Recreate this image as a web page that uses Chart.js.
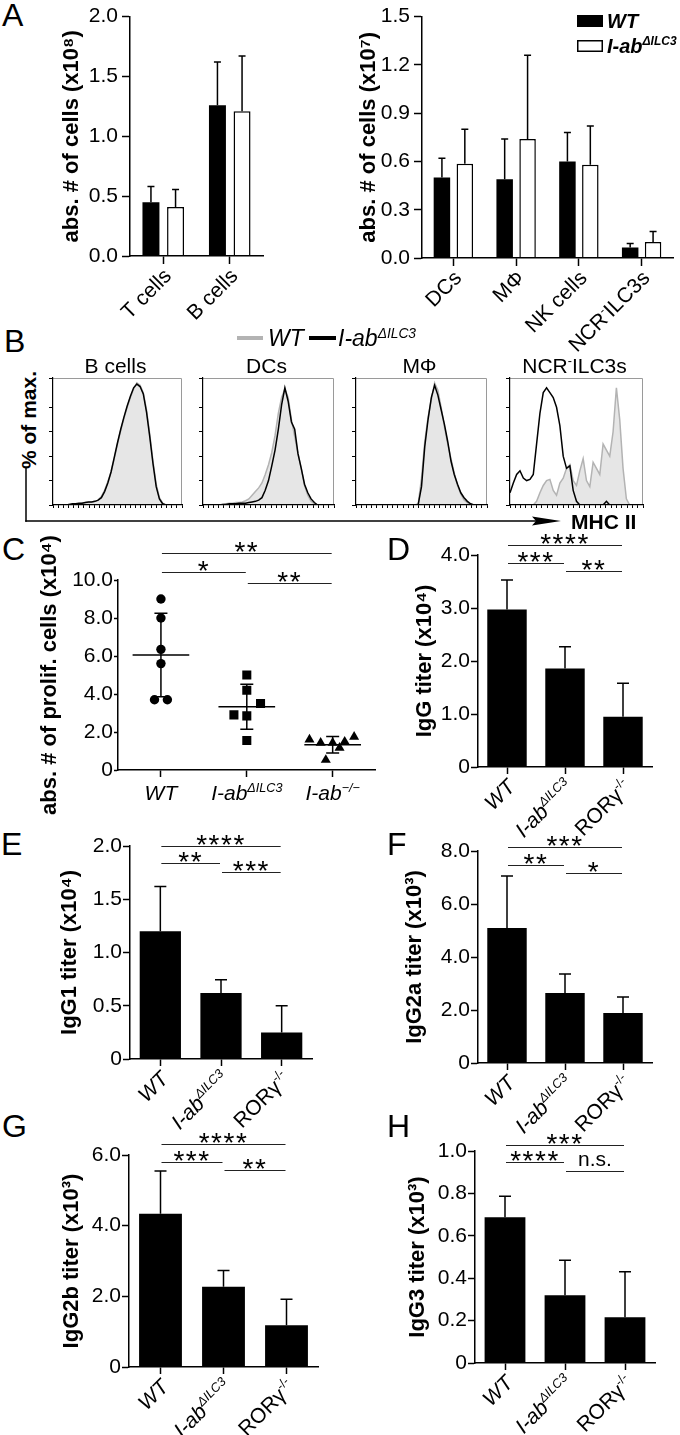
<!DOCTYPE html>
<html><head><meta charset="utf-8"><title>Figure</title>
<script src="https://cdn.jsdelivr.net/npm/chart.js@4.4.1/dist/chart.umd.min.js"></script>
<style>
html,body{margin:0;padding:0;background:#fff}
#wrap{position:relative;width:680px;height:1435px;overflow:hidden;font-family:"Liberation Sans",Arial,Helvetica,sans-serif;color:#000}
#wrap canvas{position:absolute}
.t{position:absolute;white-space:nowrap;line-height:1}
.t sup{font-size:0.6em;vertical-align:0.6em;line-height:0}
</style></head><body><div id="wrap"></div>
<script>
// ================= DATA =================
// Panel A (left)
const A1_CATS = ['T cells', 'B cells'];
const A1_WT = [0.45, 1.26];
const A1_WT_SD = [0.13, 0.36];
const A1_KO = [0.41, 1.21];
const A1_KO_SD = [0.145, 0.46];
// Panel A (right)
const A2_CATS = ['DCs', 'MΦ', 'NK cells', 'NCR^-^ILC3s'];
const A2_WT = [0.50, 0.49, 0.60, 0.065];
const A2_WT_SD = [0.12, 0.25, 0.18, 0.025];
const A2_KO = [0.585, 0.74, 0.58, 0.10];
const A2_KO_SD = [0.215, 0.52, 0.24, 0.065];
const SERIES_NAMES = ['WT', 'I-ab^ΔILC3'];

// Panel B (histograms, % of max vs MHC II channel)
const B_TITLES = ['B cells', 'DCs', 'MΦ', 'NCR^-^ILC3s'];
const B_X = [0,2.5,5,7.5,10,12.5,15,17.5,20,22.5,25,27.5,30,32.5,35,37.5,40,42.5,45,47.5,50,52.5,55,57.5,60,62.5,65,67.5,70,72.5,75,77.5,80,82.5,85,87.5,90,92.5,95,97.5,100];
const B_BCELL_WT = [0,0,0,0,0,0.5,0.5,1,1,1.5,2,2,2.5,3,4,7,12,19,27,38,50,61,71,80,88,95,100,98,92,78,58,36,17,6,1.5,0,0,0,0,0,0];
const B_BCELL_KO = [0,0,0,0,0,0.5,1,1,1.5,1.5,2,2.5,2.5,3,4,6,11,18,27,39,51,62,72,81,89,96,99,97,91,76,56,34,15,5,1,0,0,0,0,0,0];
const B_DC_WT = [0,0,0,0,0,0,0.5,1,1.5,1.5,2,2,2.5,3.5,5,8,11,14,18,25,33,43,57,75,88,95,88,70,56,42,30,16,8,3,1,0,0,0,0,0,0];
const B_DC_KO = [0,0,0,0,0,0,0.5,0.5,1,1,1,1.5,1.5,1.5,2,2.5,3,4,6,12,20,32,45,62,82,96,85,68,62,42,30,17,10,5,2,0,0,0,0,0,0];
const B_MP_WT = [0,0,0,0,0,0,0,0,0,0,0,0,0,0,0,0,0,0,0,1,22,52,72,86,100,94,80,64,50,38,26,16,9,4,2,0.5,0,0,0,0,0];
const B_MP_KO = [0,0,0,0,0,0,0,0,0,0,0,0,0,0,0,0,0,0,0,0.5,15,48,70,88,98,90,78,66,52,36,25,17,10,6,3,1,0,0,0,0,0];
const B_NCR_WT = [0,0,0,0,0,0,0,0,3,10,16,20,21,12,8,18,22,30,33,20,16,28,38,20,15,35,30,25,50,45,40,60,96,70,30,5,0,0,0,0,0];
const B_NCR_KO = [10,18,25,28,22,20,21,25,50,75,92,96,92,88,80,65,40,30,32,12,3,0,0,0,0,0,0,0,0,3,0,0,0,0,0,0,0,0,0,0,0];

// Panel C (scatter, mean ± SD)
const C_GROUPS = ['WT', 'I-ab^ΔILC3', 'I-ab^−/−'];
const C_WT = [9.0, 8.0, 6.35, 5.6, 3.7, 3.7];
const C_WT_X = [0, 0, 0, 0, -0.075, 0.075];
const C_ILC3 = [5.0, 4.2, 3.5, 2.9, 2.85, 1.55];
const C_ILC3_X = [0, 0, 0.16, -0.15, 0, 0];
const C_KO = [1.6, 1.43, 1.43, 0.53, 1.17, 1.49, 1.75];
const C_KO_X = [-0.27, -0.14, 0, -0.08, 0.08, 0.14, 0.25];
const C_MEAN = [6.05, 3.33, 1.33];
const C_SD = [2.2, 1.18, 0.43];
const C_SIG = [[0, 2, 11.4, '**'], [0, 1, 10.4, '*'], [1, 2, 9.84, '**']];

// Panels D-H (titers, mean + SD)
const TITER_GROUPS = ['WT', 'I-ab^ΔILC3', 'RORγ^-/-'];
const D_MEAN = [2.97, 1.86, 0.95];  const D_SD = [0.56, 0.41, 0.63];
const D_SIG = [[0, 2, 4.19, '****'], [0, 1, 3.85, '***'], [1, 2, 3.70, '**']];
const E_MEAN = [1.20, 0.62, 0.25];  const E_SD = [0.42, 0.125, 0.25];
const E_SIG = [[0, 2, 2.0, '****'], [0, 1, 1.84, '**'], [1, 2, 1.755, '***']];
const F_MEAN = [5.09, 2.64, 1.89];  const F_SD = [1.97, 0.72, 0.60];
const F_SIG = [[0, 2, 8.15, '***'], [0, 1, 7.47, '**'], [1, 2, 7.17, '*']];
const G_MEAN = [4.34, 2.27, 1.18];  const G_SD = [1.21, 0.46, 0.74];
const G_SIG = [[0, 2, 6.31, '****'], [0, 1, 5.80, '***'], [1, 2, 5.58, '**']];
const H_MEAN = [0.687, 0.32, 0.216]; const H_SD = [0.10, 0.165, 0.214];
const H_SIG = [[0, 2, 1.03, '***'], [0, 1, 0.946, '****'], [1, 2, 0.908, 'n.s.']];

// ================= RENDERING =================
const FF = '"Liberation Sans", Arial, Helvetica, sans-serif';
const TICK_FS = 21, TITLE_FS = 22, XLAB_FS = 21;
Chart.defaults.font.family = FF;
Chart.defaults.color = '#000';
const wrap = document.getElementById('wrap');

function fontStr(size, style) { return (style ? style + ' ' : '') + size + 'px ' + FF; }
function parseRich(s) { return s.split('^').map((t, i) => ({ t, sup: i % 2 === 1 })); }
function richHTML(s) { return s.split('^').map((t, i) => i % 2 ? '<sup>' + t + '</sup>' : t).join(''); }
function richWidth(ctx, segs, size, style) {
  let w = 0;
  for (const s of segs) { ctx.font = fontStr(s.sup ? size * 0.6 : size, style); w += ctx.measureText(s.t).width; }
  return w;
}
function drawRich(ctx, segs, x, y, size, style, align, angle, vshift) {
  ctx.save();
  ctx.translate(x, y);
  if (angle) ctx.rotate(angle);
  if (vshift) ctx.translate(0, vshift);
  ctx.textAlign = 'left'; ctx.textBaseline = 'alphabetic'; ctx.fillStyle = '#000';
  const w = richWidth(ctx, segs, size, style);
  let cx = align === 'right' ? -w : (align === 'center' ? -w / 2 : 0);
  for (const s of segs) {
    const fs = s.sup ? size * 0.6 : size;
    ctx.font = fontStr(fs, style);
    ctx.fillText(s.t, cx, s.sup ? -size * 0.4 : 0);
    cx += ctx.measureText(s.t).width;
  }
  ctx.restore();
}
function mkCanvas(left, top, w, h) {
  const c = document.createElement('canvas');
  c.width = w; c.height = h;
  c.style.left = left + 'px'; c.style.top = top + 'px';
  c.style.width = w + 'px'; c.style.height = h + 'px';
  wrap.appendChild(c);
  return c;
}
function addText(html, x, baseline, size, css, align) {
  const d = document.createElement('div');
  d.className = 't';
  d.innerHTML = html;
  let st = 'font-size:' + size + 'px;top:' + (baseline - 0.8465 * size) + 'px;left:' + x + 'px;';
  if (align === 'center') st += 'transform:translateX(-50%);';
  d.style.cssText = st + (css || '');
  wrap.appendChild(d);
  return d;
}
function baseOpts(padTop, padRight) {
  return {
    responsive: false, animation: false, devicePixelRatio: 1, events: [],
    layout: { padding: { top: padTop, right: padRight, bottom: 0, left: 0 } },
    plugins: { legend: { display: false }, tooltip: { enabled: false } }
  };
}
const fmt1 = v => v.toFixed(1);
const fmt0 = v => (Math.abs(v) < 1e-9 ? '0' : v.toFixed(1));
function yScale(c) {
  return {
    type: 'linear', min: c.min, max: c.max,
    ticks: { stepSize: c.step, callback: c.fmt, color: '#000', font: { size: TICK_FS, family: FF }, padding: c.pad },
    grid: { drawOnChartArea: false, drawTicks: true, tickLength: c.tickLen, tickColor: '#000', tickWidth: 1.5, color: '#000' },
    border: { display: true, color: '#000', width: 1.5, z: 1 },
    title: { display: true, text: c.title, color: '#000', font: { size: TITLE_FS, weight: 'bold', family: FF }, padding: 0 },
    afterFit(s) { s.width = c.width; }
  };
}
function xCat(height, tickLen) {
  return {
    type: 'category', offset: true,
    ticks: { display: false },
    grid: { offset: false, drawOnChartArea: false, drawTicks: true, tickLength: tickLen, tickColor: '#000', tickWidth: 1.5 },
    border: { display: true, color: '#000', width: 1.5, z: 1 },
    afterFit(s) { s.height = height; }
  };
}
// upward error bars (mean + SD)
function errPlugin(cap) {
  return {
    id: 'errbars',
    afterDatasetsDraw(chart) {
      const ctx = chart.ctx, ys = chart.scales.y;
      chart.data.datasets.forEach((ds, i) => {
        if (!ds.sd) return;
        chart.getDatasetMeta(i).data.forEach((bar, j) => {
          const top = ys.getPixelForValue(ds.data[j] + ds.sd[j]);
          ctx.save();
          ctx.strokeStyle = '#000'; ctx.lineWidth = 1.5;
          ctx.beginPath();
          ctx.moveTo(bar.x, bar.y); ctx.lineTo(bar.x, top);
          ctx.moveTo(bar.x - cap / 2, top); ctx.lineTo(bar.x + cap / 2, top);
          ctx.stroke();
          ctx.restore();
        });
      });
    }
  };
}
// significance brackets
function sigPlugin(items, xOff) {
  return {
    id: 'sigmarks',
    afterDraw(chart) {
      const ctx = chart.ctx, xs = chart.scales.x, ys = chart.scales.y;
      for (const [a, b, yv, t] of items) {
        const x1 = xs.getPixelForValue(a + xOff) + 1, x2 = xs.getPixelForValue(b + xOff) - 1;
        const yy = Math.round(ys.getPixelForValue(yv)) + 0.5;
        ctx.save();
        ctx.strokeStyle = '#222'; ctx.lineWidth = 1.2;
        ctx.beginPath(); ctx.moveTo(x1, yy); ctx.lineTo(x2, yy); ctx.stroke();
        const star = t.indexOf('*') >= 0;
        const fs = star ? 28 : 21;
        ctx.font = fontStr(fs, '');
        if ('letterSpacing' in ctx) ctx.letterSpacing = star ? '1.5px' : '0px';
        ctx.fillStyle = '#000'; ctx.textAlign = 'center'; ctx.textBaseline = 'alphabetic';
        const m = ctx.measureText(t);
        const gap = star ? 2 : 6;
        ctx.fillText(t, (x1 + x2) / 2, yy - gap - m.actualBoundingBoxDescent);
        ctx.restore();
      }
    }
  };
}
// category labels under x axis
function labelPlugin(labels, styles, size, rotate, dx, dy, xOff) {
  return {
    id: 'xlabels',
    afterDraw(chart) {
      const ctx = chart.ctx, xs = chart.scales.x, base = chart.chartArea.bottom;
      labels.forEach((lab, i) => {
        const x = xs.getPixelForValue(i + xOff);
        const st = styles[i];
        if (rotate) drawRich(ctx, parseRich(lab), x + dx, base + dy, size, st, 'right', -Math.PI / 4, size * 0.35);
        else drawRich(ctx, parseRich(lab), x, base + dy, size, st, 'center', 0, 0);
      });
    }
  };
}

// ---------- Panel A left ----------
(function () {
  const L = { left: 59, top: 0, axisX: 130, right: 263, topY: 12, base: 256, bottom: 350 };
  const cv = mkCanvas(L.left, L.top, L.right - L.left + 4, L.bottom - L.top);
  const o = baseOpts(L.topY - L.top, 4);
  o.scales = {
    x: xCat(L.bottom - L.base, 8),
    y: yScale({ min: 0, max: 2.0, step: 0.5, fmt: fmt1, title: 'abs. # of cells (x10⁸)', width: L.axisX - L.left, tickLen: 8, pad: 4 })
  };
  new Chart(cv, {
    type: 'bar',
    data: {
      labels: A1_CATS, datasets: [
        { label: SERIES_NAMES[0], data: A1_WT, sd: A1_WT_SD, backgroundColor: '#000', borderWidth: 0, categoryPercentage: 0.74, barPercentage: 0.69 },
        { label: SERIES_NAMES[1], data: A1_KO, sd: A1_KO_SD, backgroundColor: '#fff', borderColor: '#000', borderWidth: 1.5, categoryPercentage: 0.74, barPercentage: 0.69 }
      ]
    },
    options: o,
    plugins: [errPlugin(7), labelPlugin(A1_CATS, A1_CATS.map(() => ''), XLAB_FS, true, 4, 16, 0)]
  });
})();

// ---------- Panel A right ----------
(function () {
  const L = { left: 356, top: 0, axisX: 422, right: 673, topY: 12, base: 258, bottom: 365 };
  const cv = mkCanvas(L.left, L.top, L.right - L.left + 4, L.bottom - L.top);
  const o = baseOpts(L.topY - L.top, 4);
  o.scales = {
    x: xCat(L.bottom - L.base, 8),
    y: yScale({ min: 0, max: 1.5, step: 0.3, fmt: fmt1, title: 'abs. # of cells (x10⁷)', width: L.axisX - L.left, tickLen: 8, pad: 4 })
  };
  const legend = {
    id: 'alegend',
    afterDraw(chart) {
      const ctx = chart.ctx, ds = chart.data.datasets, ox = L.left;
      ctx.save();
      ctx.fillStyle = ds[0].backgroundColor; ctx.fillRect(577 - ox, 15, 26, 12);
      ctx.fillStyle = ds[1].backgroundColor; ctx.fillRect(577 - ox, 40, 26, 12);
      ctx.strokeStyle = '#000'; ctx.lineWidth = 1.5; ctx.strokeRect(577 - ox + 0.75, 40.75, 24.5, 10.5);
      ctx.restore();
      drawRich(ctx, parseRich(ds[0].label), 607 - ox, 28, 20, 'italic bold', 'left', 0, 0);
      drawRich(ctx, parseRich(ds[1].label), 607 - ox, 53, 20, 'italic bold', 'left', 0, 0);
    }
  };
  new Chart(cv, {
    type: 'bar',
    data: {
      labels: A2_CATS, datasets: [
        { label: SERIES_NAMES[0], data: A2_WT, sd: A2_WT_SD, backgroundColor: '#000', borderWidth: 0, categoryPercentage: 0.73, barPercentage: 0.72 },
        { label: SERIES_NAMES[1], data: A2_KO, sd: A2_KO_SD, backgroundColor: '#fff', borderColor: '#000', borderWidth: 1.5, categoryPercentage: 0.73, barPercentage: 0.72 }
      ]
    },
    options: o,
    plugins: [errPlugin(7), labelPlugin(A2_CATS, A2_CATS.map(() => ''), XLAB_FS, true, 4, 16, 0), legend]
  });
})();

// ---------- Panel B histograms ----------
(function () {
  const boxes = [[53, 182], [203, 334], [356, 487], [510, 643]];
  const top = 378, bottom = 505;
  const series = [[B_BCELL_WT, B_BCELL_KO], [B_DC_WT, B_DC_KO], [B_MP_WT, B_MP_KO], [B_NCR_WT, B_NCR_KO]];
  series.forEach(([wt, ko], k) => {
    const [l, r] = boxes[k];
    const cv = mkCanvas(l - 5, top - 2, r - l + 5 + 2, bottom - top + 2 + 4);
    const o = baseOpts(2, 2);
    o.scales = {
      x: {
        type: 'linear', min: 0, max: 100,
        ticks: { display: false, stepSize: 4 },
        grid: { drawOnChartArea: false, drawTicks: true, tickLength: 3, tickColor: '#000', tickWidth: 1 },
        border: { display: true, color: '#000', width: 1.2, z: 1 },
        afterFit(s) { s.height = 4; }
      },
      y: {
        type: 'linear', min: 0, max: 104,
        ticks: { display: false, stepSize: 20 },
        grid: { drawOnChartArea: false, drawTicks: true, tickLength: 4, tickColor: '#000', tickWidth: 1 },
        border: { display: true, color: '#000', width: 1.2, z: 1 },
        afterFit(s) { s.width = 5; }
      }
    };
    const frame = {
      id: 'frame',
      beforeDatasetsDraw(chart) {
        const ctx = chart.ctx, ca = chart.chartArea;
        ctx.save(); ctx.strokeStyle = '#9a9a9a'; ctx.lineWidth = 1;
        ctx.beginPath(); ctx.moveTo(ca.left, ca.top + 0.5); ctx.lineTo(ca.right - 0.5, ca.top + 0.5); ctx.lineTo(ca.right - 0.5, ca.bottom);
        ctx.stroke(); ctx.restore();
      }
    };
    new Chart(cv, {
      type: 'line',
      data: {
        datasets: [
          { label: SERIES_NAMES[1], data: B_X.map((x, i) => ({ x, y: ko[i] })), borderColor: '#000', borderWidth: 1.5, pointRadius: 0, fill: false, tension: 0, order: 0 },
          { label: SERIES_NAMES[0], data: B_X.map((x, i) => ({ x, y: wt[i] })), borderColor: '#b3b3b3', backgroundColor: '#e6e6e6', borderWidth: 1.5, pointRadius: 0, fill: 'origin', tension: 0, order: 1 }
        ]
      },
      options: o,
      plugins: [frame]
    });
    addText(richHTML(B_TITLES[k]), (l + r) / 2 - 2, 373, 21, '', 'center');
  });
})();

// ---------- Panel C ----------
(function () {
  const L = { left: 37, top: 530, axisX: 118, right: 378, topY: 580, base: 770, bottom: 815 };
  const cv = mkCanvas(L.left, L.top, L.right - L.left + 4, L.bottom - L.top);
  const o = baseOpts(L.topY - L.top, 4);
  o.scales = {
    x: {
      type: 'linear', min: 0.5, max: C_GROUPS.length + 0.5,
      afterBuildTicks(s) { s.ticks = C_GROUPS.map((_, i) => ({ value: i + 1 })); },
      ticks: { display: false },
      grid: { drawOnChartArea: false, drawTicks: true, tickLength: 7, tickColor: '#000', tickWidth: 1.5 },
      border: { display: true, color: '#000', width: 1.5, z: 1 },
      afterFit(s) { s.height = L.bottom - L.base; }
    },
    y: yScale({ min: 0, max: 10, step: 2, fmt: fmt0, title: 'abs. # of prolif. cells (x10⁴)', width: L.axisX - L.left, tickLen: 4, pad: 1 })
  };
  const meanSd = {
    id: 'meansd',
    afterDatasetsDraw(chart) {
      const ctx = chart.ctx, xs = chart.scales.x, ys = chart.scales.y;
      ctx.save(); ctx.strokeStyle = '#000'; ctx.lineWidth = 1.5;
      C_MEAN.forEach((m, g) => {
        const xc = xs.getPixelForValue(g + 1);
        const ym = ys.getPixelForValue(m), yt = ys.getPixelForValue(m + C_SD[g]), yb = ys.getPixelForValue(m - C_SD[g]);
        ctx.beginPath();
        ctx.moveTo(xs.getPixelForValue(g + 1 - 0.33), ym); ctx.lineTo(xs.getPixelForValue(g + 1 + 0.33), ym);
        ctx.moveTo(xc, yt); ctx.lineTo(xc, yb);
        ctx.moveTo(xc - 6.5, yt); ctx.lineTo(xc + 6.5, yt);
        ctx.moveTo(xc - 6.5, yb); ctx.lineTo(xc + 6.5, yb);
        ctx.stroke();
      });
      ctx.restore();
    }
  };
  new Chart(cv, {
    type: 'scatter',
    data: {
      datasets: [
        { data: C_WT.map((v, i) => ({ x: 1 + C_WT_X[i], y: v })), pointStyle: 'circle', pointRadius: 4.7, backgroundColor: '#000', borderColor: '#000', borderWidth: 0 },
        { data: C_ILC3.map((v, i) => ({ x: 2 + C_ILC3_X[i], y: v })), pointStyle: 'rect', pointRadius: 6.4, backgroundColor: '#000', borderColor: '#000', borderWidth: 0 },
        { data: C_KO.map((v, i) => ({ x: 3 + C_KO_X[i], y: v })), pointStyle: 'triangle', pointRadius: 5.8, backgroundColor: '#000', borderColor: '#000', borderWidth: 0 }
      ]
    },
    options: o,
    plugins: [meanSd, sigPlugin(C_SIG, 1), labelPlugin(C_GROUPS, ['italic', 'italic', 'italic'], XLAB_FS, false, 0, 30, 1)]
  });
})();

// ---------- Panels D-H ----------
const TITER_STYLES = ['italic', 'italic', ''];
function makeTiter(L, mean, sd, sig) {
  const cv = mkCanvas(L.left, L.top, L.right - L.left + 4, L.bottom - L.top);
  const o = baseOpts(L.topY - L.top, 4);
  o.scales = {
    x: xCat(L.bottom - L.base, 7),
    y: yScale({ min: 0, max: L.max, step: L.step, fmt: fmt0, title: L.title, width: L.axisX - L.left, tickLen: 7, pad: 1 })
  };
  new Chart(cv, {
    type: 'bar',
    data: { labels: TITER_GROUPS, datasets: [{ data: mean, sd: sd, backgroundColor: '#000', borderWidth: 0, barPercentage: 0.68, categoryPercentage: 1 }] },
    options: o,
    plugins: [errPlugin(12), sigPlugin(sig, 0), labelPlugin(TITER_GROUPS, TITER_STYLES, XLAB_FS, true, 4, 16, 0)]
  });
}
makeTiter({ left: 412, top: 520, axisX: 478, right: 652, topY: 555, base: 767, bottom: 850, max: 4, step: 1, title: 'IgG titer (x10⁴)' }, D_MEAN, D_SD, D_SIG);
makeTiter({ left: 57, top: 818, axisX: 130, right: 312, topY: 846, base: 1059, bottom: 1140, max: 2, step: 0.5, title: 'IgG1 titer (x10⁴)' }, E_MEAN, E_SD, E_SIG);
makeTiter({ left: 402, top: 818, axisX: 478, right: 652, topY: 851, base: 1063, bottom: 1140, max: 8, step: 2, title: 'IgG2a titer (x10³)' }, F_MEAN, F_SD, F_SIG);
makeTiter({ left: 59, top: 1112, axisX: 129, right: 318, topY: 1155, base: 1367, bottom: 1435, max: 6, step: 2, title: 'IgG2b titer (x10³)' }, G_MEAN, G_SD, G_SIG);
makeTiter({ left: 405, top: 1112, axisX: 475, right: 655, topY: 1151, base: 1363, bottom: 1435, max: 1, step: 0.2, title: 'IgG3 titer (x10³)' }, H_MEAN, H_SD, H_SIG);

// ---------- Text decorations ----------
[['A', 2, 26], ['B', 4, 352], ['C', 2, 560], ['D', 387, 560], ['E', 1, 855], ['F', 387, 855], ['G', 2, 1137], ['H', 387, 1137]]
  .forEach(([t, x, b]) => addText(t, x, b, 32, ''));
// Panel B legend, axis label and arrow
(function () {
  const g = document.createElement('div');
  g.style.cssText = 'position:absolute;left:237px;top:336px;width:26px;height:4px;background:#b3b3b3';
  wrap.appendChild(g);
  const k = document.createElement('div');
  k.style.cssText = 'position:absolute;left:309px;top:336px;width:27px;height:4px;background:#000';
  wrap.appendChild(k);
  addText(richHTML(SERIES_NAMES[0]), 268, 346, 23, 'font-style:italic;');
  addText(richHTML(SERIES_NAMES[1]), 338, 346, 23, 'font-style:italic;');
  const pm = document.createElement('div');
  pm.className = 't';
  pm.textContent = '% of max.';
  pm.style.cssText = 'font-size:21px;font-weight:bold;left:28px;top:420px;transform:translate(-50%,-50%) rotate(-90deg);';
  wrap.appendChild(pm);
  addText('MHC II', 571, 529, 21, 'font-weight:bold;');
  const ns = 'http://www.w3.org/2000/svg';
  const svg = document.createElementNS(ns, 'svg');
  svg.setAttribute('width', '680'); svg.setAttribute('height', '80');
  svg.style.cssText = 'position:absolute;left:0;top:460px';
  svg.innerHTML = '<line x1="26" y1="8" x2="26" y2="61.75" stroke="#000" stroke-width="1.5"/>' +
    '<line x1="25.25" y1="61" x2="540" y2="61" stroke="#000" stroke-width="1.5"/>' +
    '<polygon points="532,56.5 561,61 532,65.5 536,61" fill="#000"/>';
  wrap.appendChild(svg);
})();
</script></body></html>
